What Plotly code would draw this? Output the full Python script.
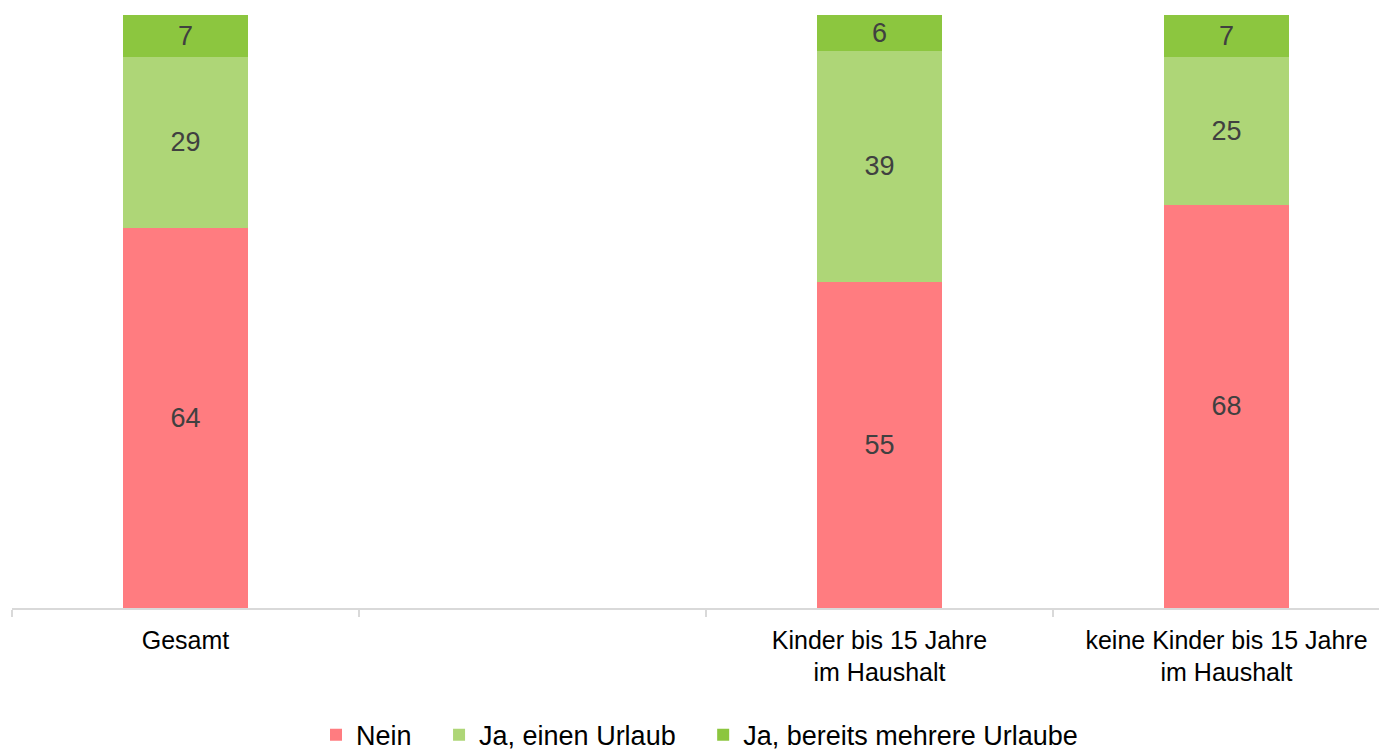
import plotly.graph_objects as go

categories = ["Gesamt", " ", "Kinder bis 15 Jahre<br>im Haushalt", "keine Kinder bis 15 Jahre<br>im Haushalt"]
nein = [64, None, 55, 68]
ja_einen = [29, None, 39, 25]
ja_mehrere = [7, None, 6, 7]

NB = "\u00a0" * 3
series = [
    ("Nein" + NB, nein, "#FF7C80"),
    ("Ja, einen Urlaub" + NB, ja_einen, "#AED677"),
    ("Ja, bereits mehrere Urlaube", ja_mehrere, "#8CC63F"),
]

fig = go.Figure()
for name, vals, color in series:
    fig.add_trace(go.Bar(
        x=categories, y=vals, name=name,
        marker=dict(color=color, line=dict(width=0)),
        text=[("" if v is None else str(v)) for v in vals],
        textposition="inside", insidetextanchor="middle",
        constraintext="none", textangle=0,
        textfont=dict(family="Liberation Sans, Arial, sans-serif", size=27, color="#404040"),
        width=0.363,
    ))

fig.update_layout(
    barmode="stack",
    width=1379, height=745,
    margin=dict(l=4, r=0, t=7, b=145, autoexpand=False),
    paper_bgcolor="white", plot_bgcolor="white",
    font=dict(family="Liberation Sans, Arial, sans-serif", color="#000000"),
    showlegend=True,
    legend=dict(orientation="h", x=0.5, xanchor="center", y=-0.173, yanchor="top",
                font=dict(size=27, color="#000000"), traceorder="normal",
                itemwidth=30, tracegroupgap=0),
    xaxis=dict(type="category", range=[-0.5, 3.4625], showline=True, linecolor="#D9D9D9", linewidth=1.5,
               ticks="outside", tickson="boundaries", ticklen=7, tickcolor="#D9D9D9", tickwidth=1.5,
               tickfont=dict(size=25, color="#000000"), showgrid=False, automargin=False,
               ticklabelstandoff=9),
    yaxis=dict(range=[0, 100], visible=False, showgrid=False, zeroline=False, automargin=False),
)

fig.write_html("out.html")
